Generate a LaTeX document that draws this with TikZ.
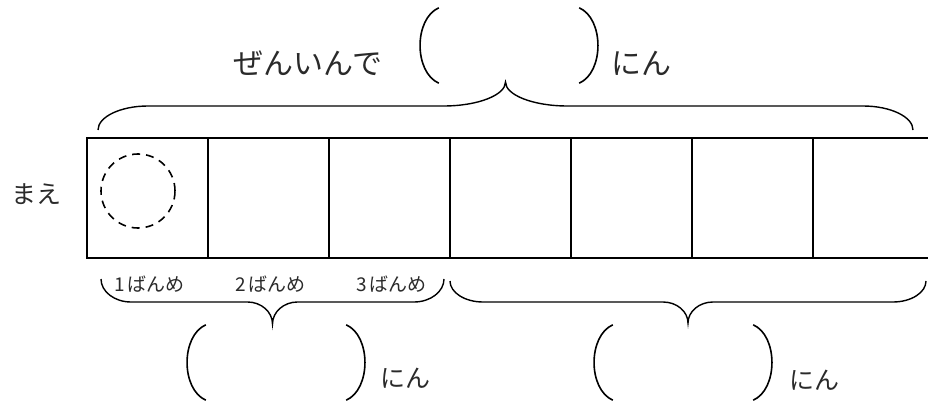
\documentclass[tikz,border=0pt]{standalone}
\usepackage{fontspec}
\newfontfamily\jpfont{Noto Sans CJK JP}
\usetikzlibrary{positioning,calc}
\definecolor{ink}{HTML}{2A2A2A}
\tikzset{
  cell/.style={draw,line width=2pt,minimum width=121pt,minimum height=120pt,inner sep=0pt},
  brc/.style={line width=1.4pt,draw=black},
  kakko/.style={line width=1.6pt,draw=black},
  ansbox/.style={minimum width=140pt,minimum height=75pt,inner sep=0pt},
  big/.style={font=\jpfont\fontsize{30}{34}\selectfont,text=ink,inner sep=0pt},
  mid/.style={font=\jpfont\fontsize{25}{29}\selectfont,text=ink,inner sep=0pt},
  small/.style={font=\jpfont\fontsize{19}{23}\selectfont,text=ink,inner sep=0pt}
}
% brace: left x, right x, end y, bar y, tip y, end width, tip width
\newcommand{\kbrace}[7]{%
  \pgfmathsetmacro\bm{(#1+#2)/2}
  \draw[brc] (#1,#3) .. controls (#1,{#3+0.55*(#4-#3)}) and ({#1+0.45*#6},#4) .. ({#1+#6},#4)
    -- ({\bm-#7},#4) .. controls ({\bm-0.45*#7},#4) and (\bm,{#4+0.45*(#5-#4)}) .. (\bm,#5)
    .. controls (\bm,{#4+0.45*(#5-#4)}) and ({\bm+0.45*#7},#4) .. ({\bm+#7},#4)
    -- ({#2-#6},#4) .. controls ({#2-0.45*#6},#4) and (#2,{#3+0.55*(#4-#3)}) .. (#2,#3);
}
% paren pair round an answer box
\newcommand{\kakkopair}[1]{%
  \draw[kakko] (#1.north west) .. controls ($(#1.north west)+(-25,11)$) and ($(#1.south west)+(-25,-11)$) .. (#1.south west);
  \draw[kakko] (#1.north east) .. controls ($(#1.north east)+(25,11)$) and ($(#1.south east)+(25,-11)$) .. (#1.south east);
}

\begin{document}
\begin{tikzpicture}[x=1pt,y=-1pt]
  \useasboundingbox (0,0) rectangle (928,403);
  % the row of seats
  \foreach \i in {1,...,7} {
    \node[cell] (c\i) at ({87+121*(\i-0.5)},198) {};
  }
  \node[draw,circle,dash pattern=on 8pt off 6pt,line width=1.6pt,minimum size=74pt,inner sep=0pt] (maru) at (138,191) {};
  \node[mid] (mae) at (37,194) {まえ};
  \foreach \i in {1,2,3} {
    \node[small,below=17pt of c\i,xshift=2pt] (n\i) {\i\,ばんめ};
  }
  % top
  \node[big] (zenin) at (308,63) {ぜんいんで};
  \node[ansbox] (a0) at (509,45.5) {};
  \kakkopair{a0}
  \node[big] (nin0) at (641,63) {にん};
  \kbrace{98}{913}{130}{106}{82}{50}{62}
  % bottom
  \kbrace{101}{444}{279}{302}{324}{30}{25}
  \kbrace{450}{926}{281}{302}{323}{33}{25}
  \node[ansbox] (a1) at (276,362.5) {};
  \kakkopair{a1}
  \node[mid] (nin1) at (405,378) {にん};
  \node[ansbox] (a2) at (683,362.5) {};
  \kakkopair{a2}
  \node[mid] (nin2) at (814,380) {にん};
\end{tikzpicture}
\end{document}
